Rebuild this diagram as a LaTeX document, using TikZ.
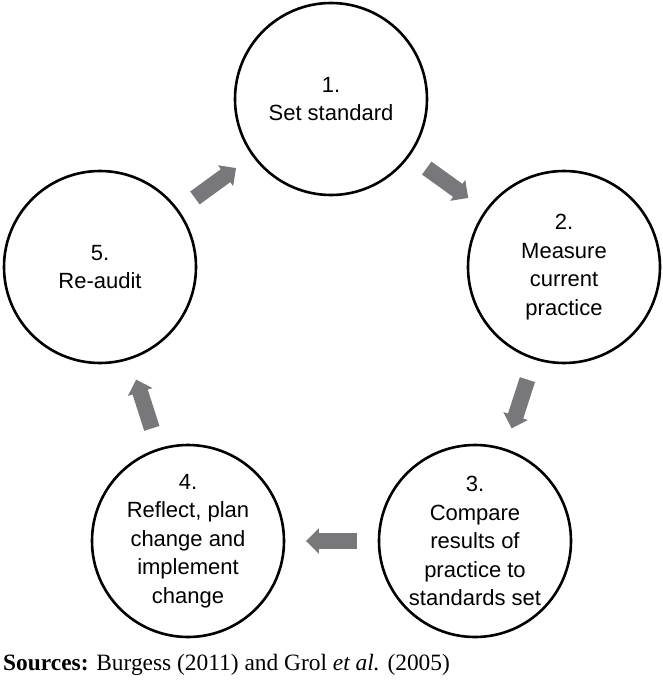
\documentclass[tikz,border=0pt]{standalone}
\usepackage{fontspec}
\setmainfont{Liberation Serif}
\newfontfamily\arialfont{Liberation Sans}
\usetikzlibrary{arrows.meta,calc}
\definecolor{arrowgray}{RGB}{120,120,122}
\begin{document}
\begin{tikzpicture}[x=1pt,y=-1pt,
  stage/.style={circle,draw=black,line width=2.6pt,minimum size=192pt,inner sep=0pt,
    align=center,font=\arialfont\fontsize{22}{28.5}\selectfont},
  flow/.style={draw=arrowgray,line width=16pt,-{Triangle[width=25pt,length=13pt]}},
  srcnote/.style={anchor=base west,inner sep=0pt,font=\fontsize{23.4}{28}\selectfont}]
\useasboundingbox (0,0) rectangle (663,680);
\node[stage] (c1) at (331,99) {1.\\Set standard};
\node[stage] (c2) at (564,267) {2.\\Measure\\current\\practice};
\node[stage] (c3) at (475,541) {3.\\Compare\\results of\\practice to\\standards set};
\node[stage] (c4) at (188,541) {4.\\Reflect, plan\\change and\\implement\\change};
\node[stage] (c5) at (100,267) {5.\\Re-audit};
\draw[flow] ($(c1)!0.411!(c2)$) -- ($(c1)!0.589!(c2)$);
\draw[flow] ($(c2)!0.411!(c3)$) -- ($(c2)!0.589!(c3)$);
\draw[flow] ($(c3)!0.411!(c4)$) -- ($(c3)!0.589!(c4)$);
\draw[flow] ($(c4)!0.411!(c5)$) -- ($(c4)!0.589!(c5)$);
\draw[flow] ($(c5)!0.411!(c1)$) -- ($(c5)!0.589!(c1)$);
\node[srcnote] (src) at (3,670) {\textbf{Sources:} Burgess (2011) and Grol \textit{et al.} (2005)};
\end{tikzpicture}
\end{document}
